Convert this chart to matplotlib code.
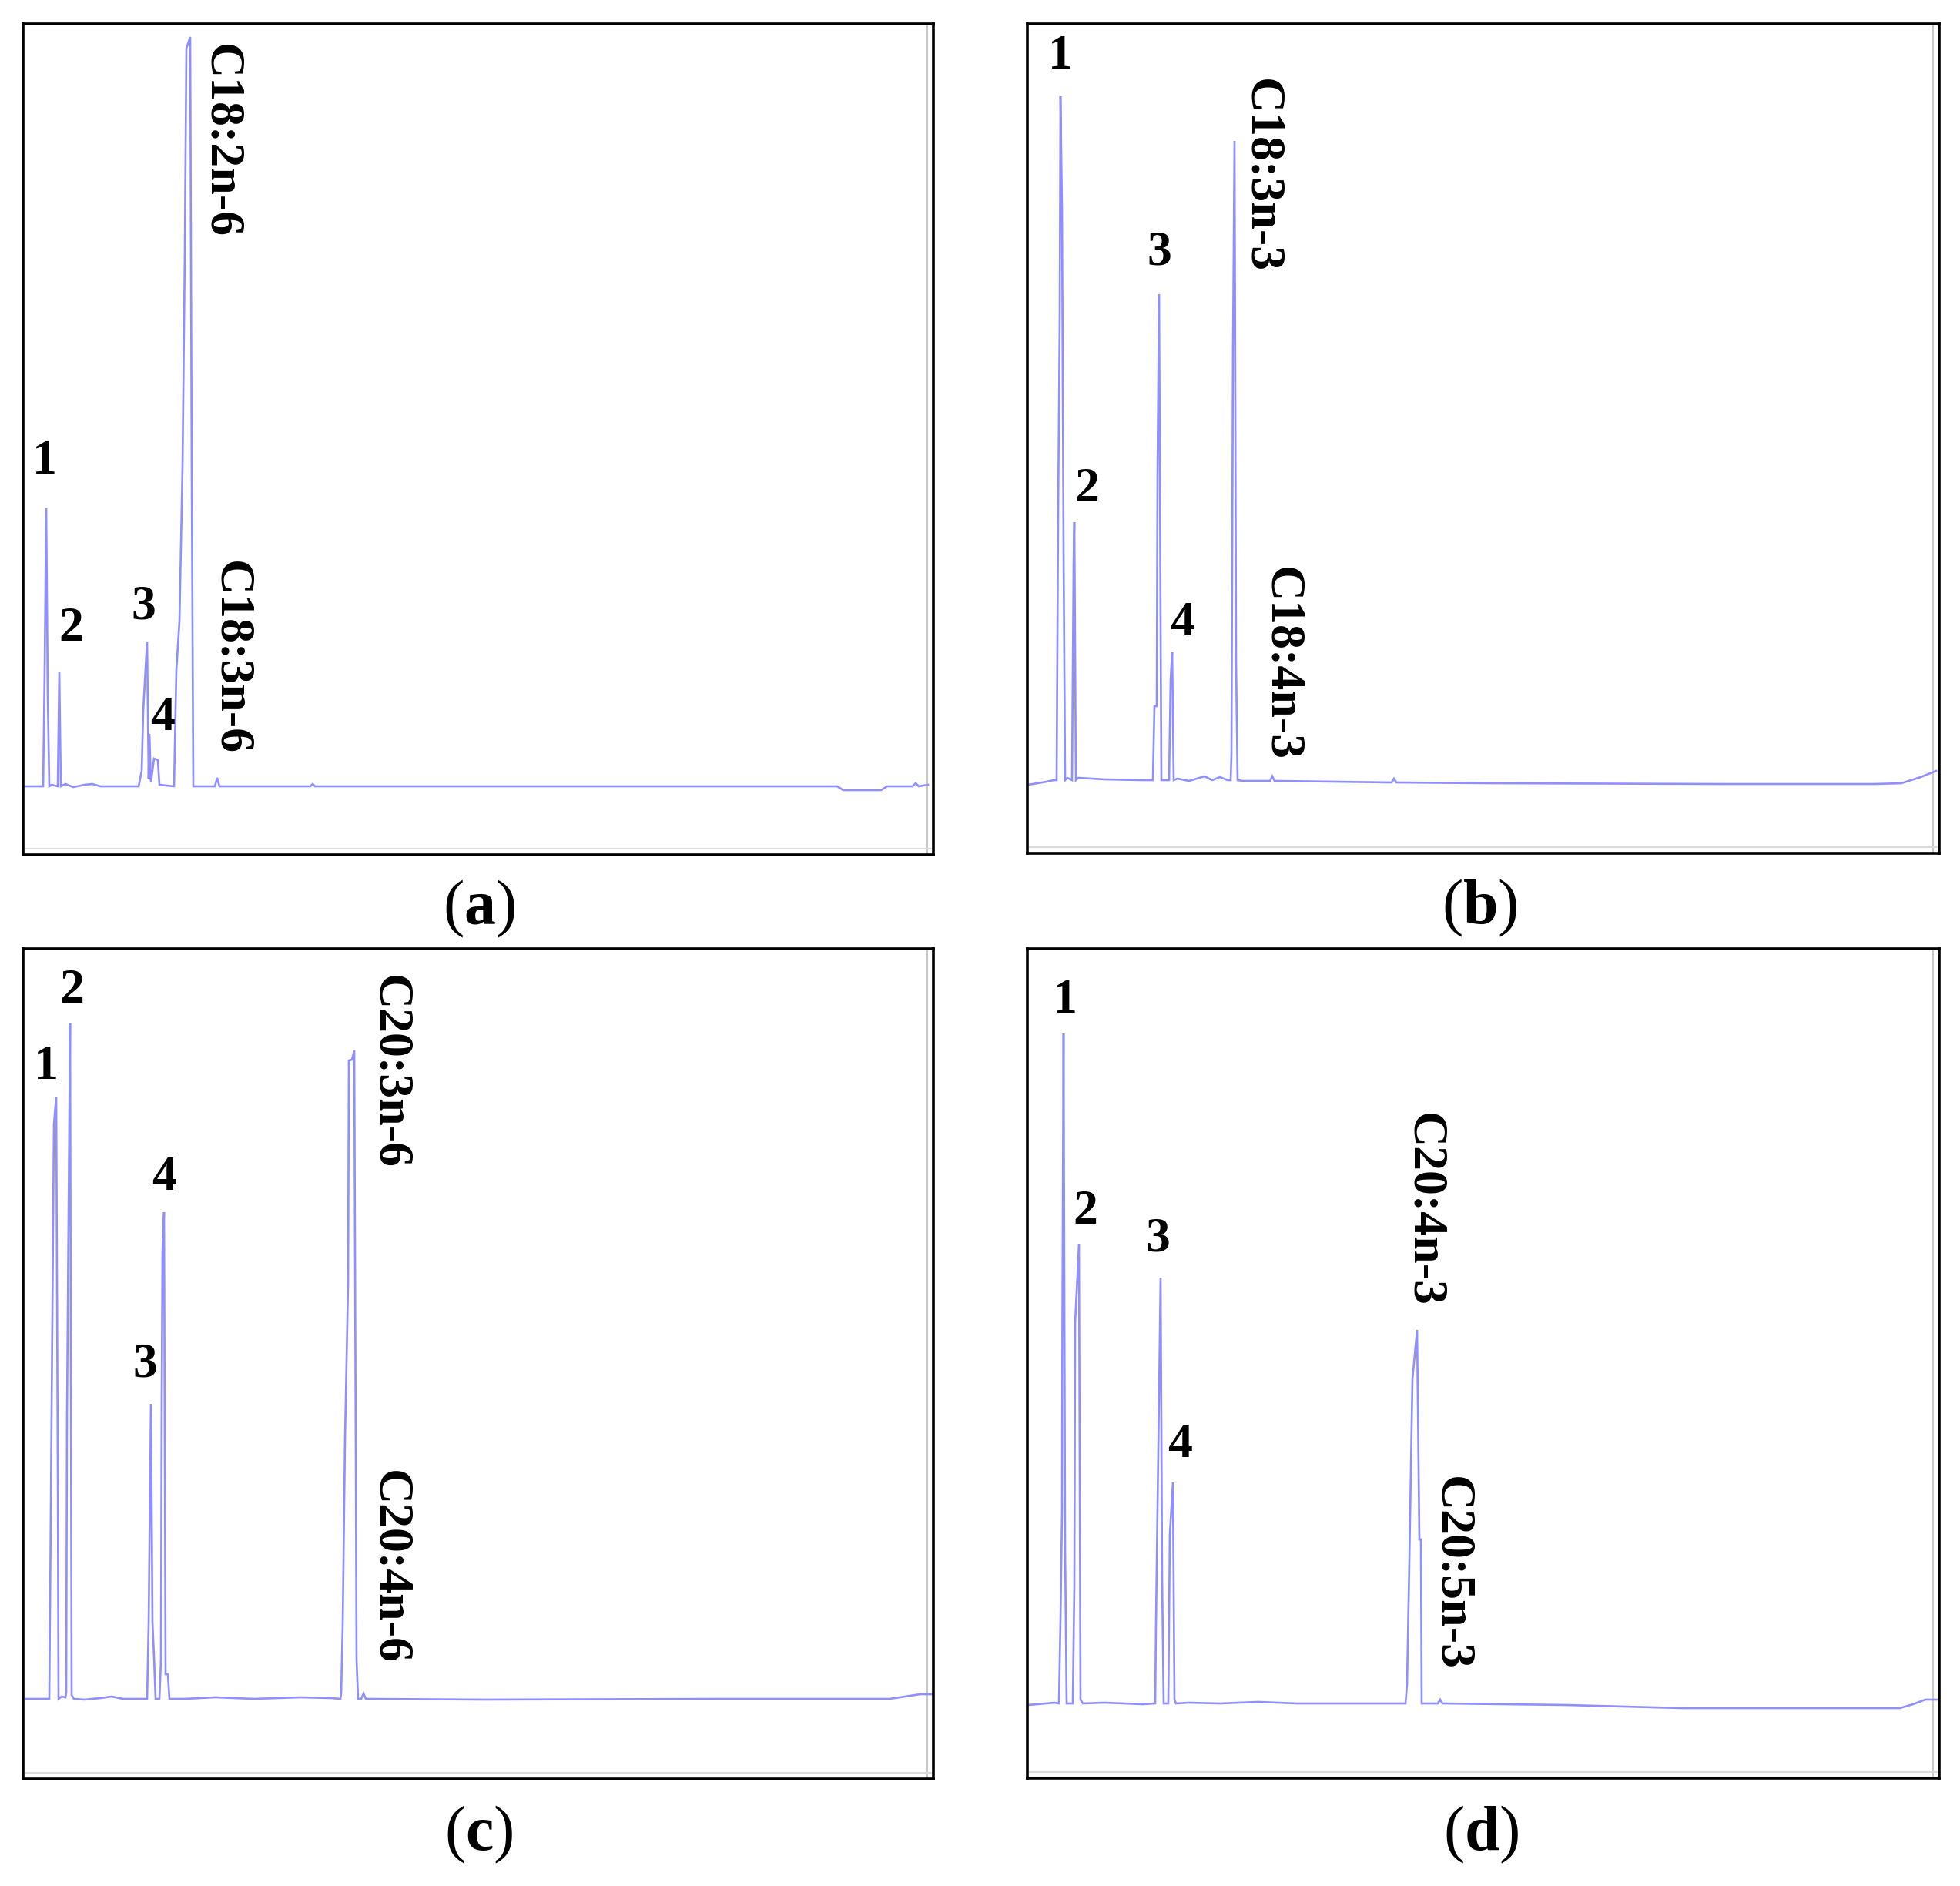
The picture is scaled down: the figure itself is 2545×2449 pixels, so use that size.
import matplotlib
matplotlib.use("Agg")
import matplotlib.pyplot as plt
from matplotlib.lines import Line2D

plt.rcParams['font.family'] = ['Liberation Serif', 'DejaVu Serif']
plt.rcParams['mathtext.fontset'] = 'custom'
plt.rcParams['mathtext.rm'] = 'Liberation Serif'
plt.rcParams['mathtext.bf'] = 'Liberation Serif:bold'

# ---- chromatogram traces (retention position, detector response) ----
a_time = [0.2, 2.6, 2.8, 3.0, 3.2, 3.4, 3.7, 4.5, 4.7, 4.9, 5.5, 6.5, 8.0, 9.0, 10.0, 15.0, 15.4,
          15.6, 16.1, 16.3, 16.4, 16.6, 17.0, 17.5, 17.7, 19.6, 19.9, 20.3, 20.7, 21.0, 21.2, 21.7,
          21.9, 22.1, 24.9, 25.2, 25.5, 37.3, 37.6, 37.9, 105.7, 106.5, 111.4, 112.2, 115.5,
          115.9, 116.3, 117.5]
a_resp = [0.0, 0.0, 15.0, 36.1, 12.0, 0.0, 0.2, 0.0, 14.9, 0.0, 0.3, -0.1, 0.2, 0.3, 0.0, 0.0, 2.0,
          9.9, 18.8, 1.0, 6.8, 0.5, 3.6, 3.4, 0.2, 0.0, 15.1, 21.4, 41.4, 69.4, 95.8, 97.3,
          40.0, 0.0, 0.0, 1.1, 0.0, 0.0, 0.3, 0.0, 0.0, -0.5, -0.5, 0.0, 0.0,
          0.4, 0.0, 0.2]

b_time = [0.1, 2.5, 3.4, 3.8, 3.9, 4.0, 4.2, 4.3, 4.5, 4.7, 4.9, 5.2, 5.8, 6.0, 6.1, 6.3, 6.6,
          10.0, 15.0, 16.3, 16.5, 16.8, 16.9, 17.1, 17.3, 17.4, 18.4, 18.6, 18.8, 19.0, 19.5,
          21.0, 23.0, 24.0, 25.0, 26.0, 26.4, 26.5, 26.6, 26.7, 26.9, 27.1, 27.3, 28.0, 31.5,
          31.8, 32.1, 40.0, 47.3, 47.6, 47.9, 60.0, 90.0, 110.0, 113.5, 116.0, 118.0]
b_resp = [-0.6, -0.2, 0.0, 0.0, 18.0, 35.0, 60.0, 88.8, 74.0, 30.0, 0.0, 0.3, 0.0, 28.0, 33.5, 0.0,
          0.3, 0.1, 0.0, 0.0, 9.6, 9.6, 40.0, 63.1, 20.0, 0.0, 0.0, 13.0, 16.6, 0.0, 0.2,
          -0.1, 0.5, 0.0, 0.4, 0.0, 0.0, 3.3, 30.0, 56.5, 83.0, 15.0, 0.0, -0.1, -0.1,
          0.5, -0.1, -0.2, -0.3, 0.2, -0.3, -0.4, -0.5, -0.5, -0.4, 0.4, 1.2]

c_time = [0.3, 3.4, 3.5, 3.6, 4.0, 4.3, 4.5, 4.6, 5.0, 5.5, 5.6, 5.7, 5.9, 6.1, 6.3, 6.6, 8.0,
          10.0, 11.5, 13.0, 16.1, 16.3, 16.6, 16.8, 17.0, 17.2, 17.7, 17.9, 18.0, 18.1, 18.3,
          18.5, 18.8, 19.0, 21.0, 25.0, 30.0, 36.0, 40.0, 41.2, 41.3, 41.5, 41.8, 42.2, 42.3,
          42.7, 43.0, 43.3, 43.5, 43.9, 44.2, 44.5, 60.0, 90.0, 112.5, 114.5, 116.5, 118.0]
c_resp = [0.0, 0.0, 12.0, 24.6, 74.6, 78.2, 30.0, 0.0, 0.3, 0.2, 0.8, 37.0, 62.8, 87.7, 0.5, 0.0,
          -0.1, 0.1, 0.3, 0.0, 0.0, 9.6, 38.3, 10.0, 5.4, 0.0, 0.0, 5.0, 38.9, 58.1, 63.2,
          3.2, 3.2, 0.0, 0.0, 0.2, 0.0, 0.2, 0.1, 0.0, 0.7, 9.6, 33.8, 54.0, 82.9,
          83.0, 84.2, 5.0, 0.0, 0.0, 0.7, 0.0, -0.1, 0.0, 0.0, 0.3, 0.6, 0.6]

d_time = [0.1, 3.5, 4.1, 4.3, 4.5, 4.55, 4.7, 4.9, 5.1, 5.9, 6.1, 6.2, 6.7, 6.9, 7.2, 10.0, 15.0,
          16.6, 16.7, 17.3, 17.5, 17.7, 18.3, 18.5, 18.9, 19.1, 19.3, 21.0, 25.0, 30.0, 35.0,
          49.1, 49.3, 49.6, 50.0, 50.6, 50.9, 51.1, 51.2, 53.3, 53.6, 53.9, 70.0, 85.0,
          100.0, 113.3, 115.0, 116.6, 118.1]
d_resp = [-0.2, 0.1, 0.0, 10.8, 24.9, 49.7, 87.0, 20.0, 0.0, 0.0, 15.3, 49.4, 59.6, 0.5, 0.0,
          0.1, -0.1, 0.0, 10.5, 55.3, 15.9, 0.0, 0.0, 22.0, 28.7, 0.5, 0.0, 0.1, 0.0, 0.2,
          0.0, 0.0, 2.5, 18.5, 42.1, 48.5, 21.3, 21.3, 0.0, 0.0, 0.5, 0.0, -0.2, -0.6,
          -0.6, -0.6, -0.1, 0.5, 0.5]

# ---- peak annotations ----
a_labels = ["1", "2", "3", "4", "C18:2n-6", "C18:3n-6"]
a_lab_x = [2.8, 6.2, 15.6, 18.1, 25.6, 26.9]
a_lab_y = [42.1, 20.4, 23.2, 8.8, 83.8, 16.7]

b_labels = ["1", "2", "3", "4", "C18:3n-3", "C18:4n-3"]
b_lab_x = [4.3, 7.7, 17.1, 20.1, 30.3, 32.9]
b_lab_y = [93.9, 37.7, 68.5, 20.3, 78.5, 15.1]

c_labels = ["1", "2", "3", "4", "C20:3n-6", "C20:4n-6"]
c_lab_x = [3.0, 6.3, 15.8, 18.3, 47.5, 47.5]
c_lab_y = [82.0, 91.9, 43.4, 67.6, 81.4, 17.1]

d_labels = ["1", "2", "3", "4", "C20:4n-3", "C20:5n-3"]
d_lab_x = [4.9, 7.5, 16.9, 19.8, 51.4, 55.0]
d_lab_y = [91.2, 63.8, 60.3, 33.5, 64.1, 16.9]

panel_letters = ["a", "b", "c", "d"]

W, H = 2545, 2449
fig = plt.figure(figsize=(W / 100, H / 100), dpi=100)
fig.patch.set_facecolor("white")

# panel boxes in pixels: left, right, top, bottom, baseline
boxes = [(30, 1212, 31, 1110, 1021),
         (1334, 2518, 31, 1108, 1013),
         (30, 1212, 1232, 2310, 2206),
         (1334, 2518, 1232, 2309, 2212)]
traces = [(a_time, a_resp), (b_time, b_resp), (c_time, c_resp), (d_time, d_resp)]
labels = [(a_labels, a_lab_x, a_lab_y), (b_labels, b_lab_x, b_lab_y),
          (c_labels, c_lab_x, c_lab_y), (d_labels, d_lab_x, d_lab_y)]
letter_pos = [(622, 1180), (1921, 1179), (622, 2382), (1923, 2382)]

trace_color = "#8f8fff"

for i in range(4):
    l, r, t, b, base = boxes[i]
    ax = fig.add_axes([l / W, 1 - b / H, (r - l) / W, (b - t) / H])
    ax.set_xlim(0, (r - l) / 10)
    ax.set_ylim((base - b) / 10, (base - t) / 10)
    ax.set_xticks([])
    ax.set_yticks([])
    for s in ax.spines.values():
        s.set_linewidth(2.6)
        s.set_color("black")
    # faint inner shadow on right and bottom
    ax.add_line(Line2D([0.993, 0.993], [0.0, 1.0], transform=ax.transAxes,
                       color="#c8c8c8", lw=1.5))
    ax.add_line(Line2D([0.0, 1.0], [0.007, 0.007], transform=ax.transAxes,
                       color="#dcdcdc", lw=1.5))
    tx, ty = traces[i]
    ax.plot(tx, ty, color=trace_color, lw=1.9, solid_joinstyle="miter")
    txt, lx, ly = labels[i]
    for k in range(len(txt)):
        rot = -90 if len(txt[k]) > 1 else 0
        ax.text(lx[k], ly[k], txt[k], ha="center", va="center", rotation=rot,
                fontsize=46, fontweight="bold", color="black",
                family="Liberation Serif")
    px, py = letter_pos[i]
    fig.text(px / W, 1 - py / H, "(" + r"$\mathbf{" + panel_letters[i] + "}$" + ")",
             ha="center", va="center", fontsize=59, family="Liberation Serif")

fig.savefig("out.png", dpi=100, facecolor="white")
